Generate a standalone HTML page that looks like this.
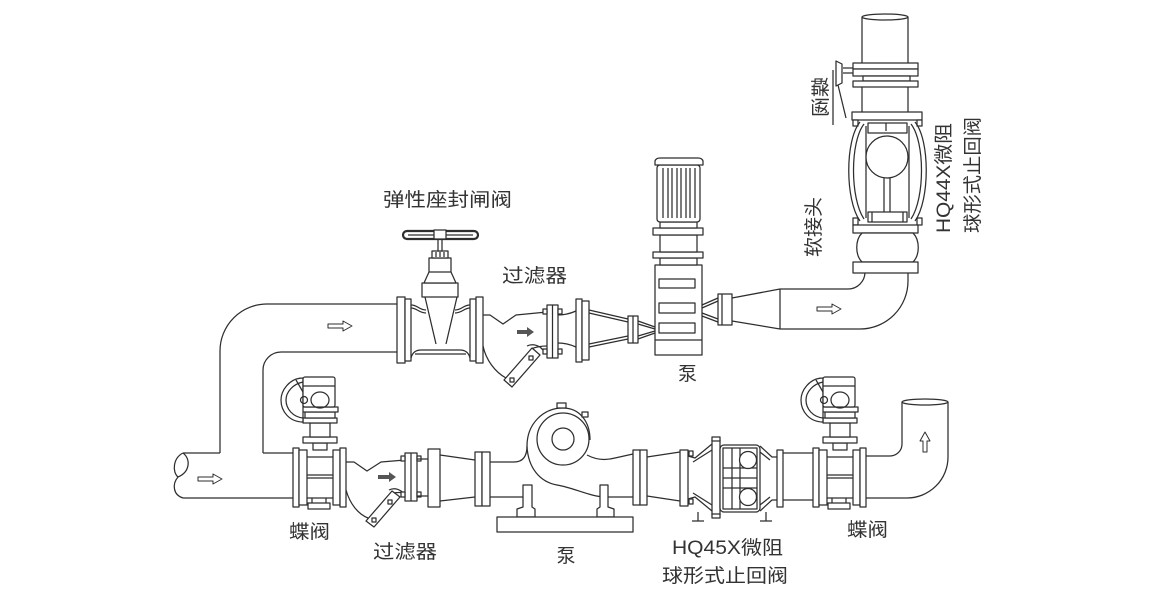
<!DOCTYPE html>
<html><head><meta charset="utf-8"><style>
html,body{margin:0;padding:0;background:#fff;}
svg{display:block;}
text{font-family:"Liberation Sans","Noto Sans CJK SC",sans-serif;fill:#333;font-size:19px;}
</style></head><body>
<svg width="1158" height="600" viewBox="0 0 1158 600" xmlns="http://www.w3.org/2000/svg">
<g fill="none" stroke="#2e2e2e" stroke-width="1.25" stroke-linejoin="round">

<!-- ===== pipes: left loop ===== -->
<path d="M220,453 V351 A47,47 0 0 1 267,304 H398"/>
<path d="M263,453 V370 A18,18 0 0 1 281,352 H398"/>
<path d="M183,453 H220 M263,453 H294 M183,498 H294"/>
<path d="M183,453 C173,458 172,472 178,477 C172,484 173,495 183,498 M183,453 C191,459 190,472 178,477"/>

<!-- ===== gate valve ===== -->
<g fill="#fff">
<rect x="397" y="297" width="8" height="66"/>
<rect x="405" y="299" width="6" height="62"/>
<rect x="470" y="299" width="6" height="62"/>
<rect x="476" y="297" width="7" height="66"/>
</g>
<path d="M411,305 C418,305 419,310 426,310 M411,308 C417,308 419,313 426,313 M470,305 C463,305 462,310 455,310 M470,308 C464,308 462,313 455,313"/>
<path d="M411,358 Q413,350 421,350 H460 Q468,350 470,358 M415,354 H466"/>
<path d="M425,297 L436,344 M457,297 L446,344"/>
<path fill="#fff" d="M422,297 V283 H458 V297 Z"/>
<path fill="#fff" d="M424,283 L429,272 V258 H451 V272 L456,283 Z"/>
<path d="M429,272 H451"/>
<rect x="432" y="251" width="16" height="7" fill="#fff"/>
<path d="M436,252 V257 M440,252 V257 M444,252 V257"/>
<rect x="438" y="239" width="4" height="12" fill="#fff"/>
<rect x="403" y="231" width="75" height="8" rx="4" fill="#fff" stroke-width="2.2"/>
<path d="M408,235 H473"/>
<rect x="434" y="230" width="12" height="9" fill="#fff"/>

<!-- ===== upper filter ===== -->
<path d="M483,315 H490 L503,324 L516,315 L547,312"/>
<path d="M483,346 C486,360 495,372 506,378"/>
<path d="M531,349 Q538,346 547,346"/>
<polygon fill="#fff" points="540,355 532,348 504,380 512,387"/>
<path d="M527,346 Q533,343 540,347 L545,352"/>
<rect x="529" y="356" width="4" height="4" fill="#fff"/>
<rect x="510" y="378" width="4" height="4" fill="#fff"/>
<rect x="547" y="305" width="11" height="53" fill="#fff"/>
<path d="M552.5,305 V358"/>
<g fill="#fff">
<rect x="543" y="309" width="4" height="5"/><rect x="558" y="309" width="4" height="5"/>
<rect x="543" y="349" width="4" height="5"/><rect x="558" y="349" width="4" height="5"/>
</g>
<path d="M558,315 Q567,315 576,311 M558,343 Q567,343 576,347"/>
<rect x="576" y="299" width="6" height="63" fill="#fff"/>
<rect x="582" y="301" width="7" height="59" fill="#fff"/>
<path d="M589,310 L628,319 M589,313 L628,322 M589,347 L628,339 M589,344 L628,336"/>
<rect x="628" y="316" width="10" height="27" fill="#fff"/>
<path d="M633,316 V343"/>
<path d="M638,321 L655,327 M638,324 L655,329 M638,339 L655,333 M638,336 L655,331"/>

<!-- arrows upper -->
<path d="M328,324 H343 V321 L352,326 L343,331 V328 H328 Z" stroke-width="1"/>
<path d="M517,330 H527 V327 L534,332 L527,337 V334 H517 Z" fill="#555" stroke="none"/>

<!-- ===== upper pump ===== -->
<rect x="655" y="265" width="47" height="90" fill="#fff"/>
<path d="M655,340 H702"/>
<rect x="659" y="279" width="36" height="9" fill="#fff"/>
<rect x="659" y="303" width="36" height="10" fill="#fff"/>
<rect x="659" y="323" width="36" height="10" fill="#fff"/>
<rect x="660" y="258" width="37" height="7" fill="#fff"/>
<rect x="653" y="252" width="50" height="6" fill="#fff"/>
<rect x="660" y="235" width="37" height="17" fill="#fff"/>
<rect x="653" y="228" width="50" height="7" fill="#fff"/>
<rect x="660" y="222" width="37" height="6" fill="#fff"/>
<rect x="657" y="165" width="43" height="57" rx="3" fill="#fff"/>
<path d="M663,168 V218 M668,168 V218 M672,168 V218 M677,168 V218 M681,168 V218 M686,168 V218 M690,168 V218 M695,168 V218"/>
<path fill="#fff" d="M655,165 V161 Q656,158 660,158 H698 Q702,158 703,161 V165 Z"/>

<!-- pump output -->
<path d="M702,305 L718,298 M702,308 L718,301 M702,316 L718,322 M702,313 L718,319"/>
<rect x="718" y="294" width="14" height="31" fill="#fff"/>
<path d="M722,294 V325"/>
<path d="M732,298 L780,289 M732,321 L780,329 M780,289 V329"/>
<path d="M780,289 H848 A17,17 0 0 0 865,272"/>
<path d="M780,329 H860 A48,48 0 0 0 908,281 V273"/>
<path d="M817,307 H832 V304 L841,309 L832,314 V311 H817 Z" stroke-width="1"/>

<!-- ===== top right vertical assembly ===== -->
<path d="M862,17 V63 M908,17 V63"/>
<ellipse cx="885" cy="17" rx="23" ry="3"/>
<rect x="853" y="63" width="65" height="6" fill="#fff"/>
<rect x="853" y="69" width="65" height="7" fill="#fff"/>
<rect x="863" y="76" width="47" height="5" fill="#fff"/>
<rect x="853" y="81" width="65" height="6" fill="#fff"/>
<path d="M862,87 V112 M908,87 V112"/>
<path d="M843,68 H853 M843,73 H853"/>
<path fill="#fff" d="M836,61 L842,64 V83 L836,86 Z"/>
<path d="M838,85 L846,118 M833,70 V125"/>
<rect x="852" y="112" width="70" height="8" fill="#fff"/>
<g fill="#fff">
<rect x="853" y="120" width="5" height="6"/><rect x="917" y="120" width="5" height="6"/>
<rect x="853" y="218" width="5" height="7"/><rect x="917" y="218" width="5" height="7"/>
</g>
<path d="M860,122 C845,140 845,200 860,221 M864,124 C850,142 850,198 864,219"/>
<path d="M915,122 C930,140 930,200 915,221 M911,124 C925,142 925,198 911,219"/>
<path d="M866,126 V218 M909,126 V218"/>
<rect x="868" y="123" width="39" height="10" fill="#fff"/>
<path d="M886,123 V131"/>
<circle cx="887" cy="157" r="21" fill="#fff"/>
<path d="M884,178 V212 M890,178 V212"/>
<rect x="868" y="212" width="39" height="10" fill="#fff"/>
<path d="M872,212 V222 M903,212 V222"/>
<rect x="853" y="225" width="65" height="8" fill="#fff"/>
<path fill="#fff" d="M862,233 C855,240 855,255 862,262 H913 C920,255 920,240 913,233 Z"/>
<rect x="853" y="262" width="65" height="11" fill="#fff"/>

<!-- ===== bottom butterfly valve (left) ===== -->
<g id="bv">
<rect x="293" y="448" width="6" height="59" fill="#fff"/>
<rect x="299" y="450" width="8" height="55" fill="#fff"/>
<rect x="333" y="450" width="7" height="55" fill="#fff"/>
<rect x="340" y="448" width="6" height="59" fill="#fff"/>
<path d="M307,457 H333 M307,475 H333 M307,478 H333 M307,498 H333"/>
<rect x="308" y="503" width="22" height="6" fill="#fff"/>
<path d="M312,498 V503 M326,498 V503"/>
<rect x="313" y="443" width="14" height="7" fill="#fff"/>
<rect x="303" y="437" width="34" height="6" fill="#fff"/>
<rect x="310" y="423" width="20" height="14" fill="#fff"/>
<rect x="303" y="418" width="34" height="5" fill="#fff"/>
<rect x="305" y="412" width="30" height="6" fill="#fff"/>
<rect x="302" y="407" width="36" height="5" fill="#fff"/>
<path fill="#fff" d="M303,378 C289,378 281,391 281,400 C281,412 290,422 303,422 Z"/>
<path d="M303,382 C293,384 286,392 286,400 C286,409 293,417 303,418"/>
<path d="M296,380 L303,392"/>
<rect x="303" y="377" width="32" height="30" rx="2" fill="#fff"/>
<path d="M303,386 H335"/>
<circle cx="304" cy="400" r="3.5"/>
<ellipse cx="320" cy="400" rx="9" ry="8"/>
</g>
<g transform="translate(520,0)">
<rect x="293" y="448" width="6" height="59" fill="#fff"/>
<rect x="299" y="450" width="8" height="55" fill="#fff"/>
<rect x="333" y="450" width="7" height="55" fill="#fff"/>
<rect x="340" y="448" width="6" height="59" fill="#fff"/>
<path d="M307,457 H333 M307,475 H333 M307,478 H333 M307,498 H333"/>
<rect x="308" y="503" width="22" height="6" fill="#fff"/>
<path d="M312,498 V503 M326,498 V503"/>
<rect x="313" y="443" width="14" height="7" fill="#fff"/>
<rect x="303" y="437" width="34" height="6" fill="#fff"/>
<rect x="310" y="423" width="20" height="14" fill="#fff"/>
<rect x="303" y="418" width="34" height="5" fill="#fff"/>
<rect x="305" y="412" width="30" height="6" fill="#fff"/>
<rect x="302" y="407" width="36" height="5" fill="#fff"/>
<path fill="#fff" d="M303,378 C289,378 281,391 281,400 C281,412 290,422 303,422 Z"/>
<path d="M303,382 C293,384 286,392 286,400 C286,409 293,417 303,418"/>
<path d="M296,380 L303,392"/>
<rect x="303" y="377" width="32" height="30" rx="2" fill="#fff"/>
<path d="M303,386 H335"/>
<circle cx="304" cy="400" r="3.5"/>
<ellipse cx="320" cy="400" rx="9" ry="8"/>
</g>

<!-- bottom arrow left -->
<path d="M198,477 H213 V474 L222,479 L213,484 V481 H198 Z" stroke-width="1"/>

<!-- ===== bottom filter ===== -->
<path d="M346,462 H354 L367,471 L381,462 L405,460"/>
<path d="M346,490 C350,504 358,514 368,518"/>
<path d="M393,493 Q400,492 405,493"/>
<polygon fill="#fff" points="400,497 392,491 366,521 374,527"/>
<path d="M389,490 Q395,487 401,491 L405,495"/>
<rect x="388" y="500" width="4" height="4" fill="#fff"/>
<rect x="372" y="518" width="4" height="4" fill="#fff"/>
<path d="M378,475 H389 V472 L396,477 L389,482 V479 H378 Z" fill="#555" stroke="none"/>
<rect x="405" y="453" width="12" height="48" fill="#fff"/>
<path d="M411,453 V501"/>
<g fill="#fff">
<rect x="401" y="456" width="4" height="5"/><rect x="417" y="456" width="4" height="5"/>
<rect x="401" y="492" width="4" height="5"/><rect x="417" y="492" width="4" height="5"/>
</g>
<path d="M417,459 H428 M417,496 H428"/>
<rect x="428" y="449" width="12" height="58" fill="#fff"/>
<path d="M440,455 L475,460 M440,501 L475,497"/>
<rect x="475" y="452" width="7" height="54" fill="#fff"/>
<rect x="482" y="452" width="8" height="54" fill="#fff"/>

<!-- ===== bottom pump ===== -->
<path d="M490,462 H514 Q527,462 527,446 C527,424 543,408 563,408 C580,408 590,422 590,440"/>
<path d="M490,497 H523"/>
<path d="M527,446 C528,468 540,482 557,485 C575,488 590,497 607,497 H633"/>
<path d="M587,455 Q600,462 615,458 L633,454"/>
<circle cx="563" cy="439" r="26"/>
<circle cx="563" cy="439" r="11"/>
<rect x="557" y="403" width="9" height="5" fill="#fff"/>
<rect x="582" y="412" width="6" height="5" fill="#fff"/>
<polygon fill="#fff" points="517,517 517,509 523,507 523,485 532,485 532,507 535,509 535,517"/>
<polygon fill="#fff" points="597,517 597,509 600,507 600,485 608,485 608,507 614,509 614,517"/>
<rect x="497" y="517" width="136" height="15" fill="#fff"/>

<!-- ===== check valve bottom ===== -->
<rect x="633" y="450" width="7" height="55" fill="#fff"/>
<rect x="640" y="450" width="7" height="55" fill="#fff"/>
<path d="M647,457 L680,452 M647,496 L680,501"/>
<rect x="680" y="450" width="8" height="56" fill="#fff"/>
<path d="M688,456 L695,458 L712,444 M688,499 L695,497 L712,511 M693,462 L712,450 M693,493 L712,505"/>
<rect x="689" y="451" width="4" height="5" fill="#fff"/>
<rect x="689" y="499" width="4" height="5" fill="#fff"/>
<rect x="712" y="440" width="8" height="75" fill="#fff"/>
<rect x="712" y="437" width="8" height="4" fill="#fff"/>
<rect x="712" y="514" width="8" height="4" fill="#fff"/>
<rect x="720" y="445" width="40" height="67" rx="4" fill="#fff"/>
<rect x="723" y="448" width="34" height="61" fill="#fff"/>
<path d="M732,448 V509 M740,448 V509 M723,468 H757 M723,478 H757 M723,488 H757"/>
<circle cx="748" cy="460" r="8.5" fill="#fff"/>
<circle cx="748" cy="497" r="8.5" fill="#fff"/>
<path d="M760,446 L772,457 H777 M760,511 L772,500 H777 M760,452 L770,460 M760,505 L770,497"/>
<rect x="777" y="450" width="6" height="57" fill="#fff"/>
<path d="M698,512 V521 H692 M698,521 H704 M766,512 V521 H760 M766,521 H772"/>
<path d="M783,453 H813 M783,500 H813"/>

<!-- right elbow -->
<path d="M866,456 H890 A12,12 0 0 0 902,444 V402"/>
<path d="M866,498 H907 A41,41 0 0 0 948,457 V402"/>
<ellipse cx="925" cy="402" rx="23" ry="3"/>
<path d="M923,452 V441 H920 L925,432 L930,441 H927 V452 Z" stroke-width="1"/>
</g>

<!-- ===== labels ===== -->
<text x="447.5" y="206" text-anchor="middle" textLength="129" lengthAdjust="spacingAndGlyphs">弹性座封闸阀</text>
<text x="534.5" y="282" text-anchor="middle" textLength="65" lengthAdjust="spacingAndGlyphs">过滤器</text>
<text x="687.5" y="380" text-anchor="middle" font-size="20">泵</text>
<text transform="translate(813,227) rotate(-90)" x="0" y="7" text-anchor="middle" textLength="60" lengthAdjust="spacingAndGlyphs">软接头</text>
<text transform="translate(943,178) rotate(-90)" x="0" y="7" text-anchor="middle" textLength="110" lengthAdjust="spacingAndGlyphs">HQ44X微阻</text>
<text transform="translate(972,175) rotate(-90)" x="0" y="7" text-anchor="middle" textLength="116" lengthAdjust="spacingAndGlyphs">球形式止回阀</text>
<text transform="translate(820,97) scale(1,-1) rotate(-90)" x="0" y="7" text-anchor="middle" textLength="40" lengthAdjust="spacingAndGlyphs">蝶阀</text>
<text x="309.5" y="538" text-anchor="middle" textLength="41" lengthAdjust="spacingAndGlyphs">蝶阀</text>
<text x="405" y="558" text-anchor="middle" textLength="64" lengthAdjust="spacingAndGlyphs">过滤器</text>
<text x="566" y="562" text-anchor="middle" font-size="19">泵</text>
<text x="727.5" y="554" text-anchor="middle" textLength="111" lengthAdjust="spacingAndGlyphs">HQ45X微阻</text>
<text x="725" y="582" text-anchor="middle" textLength="126" lengthAdjust="spacingAndGlyphs">球形式止回阀</text>
<text x="867.5" y="536" text-anchor="middle" textLength="41" lengthAdjust="spacingAndGlyphs">蝶阀</text>
</svg>
</body></html>
